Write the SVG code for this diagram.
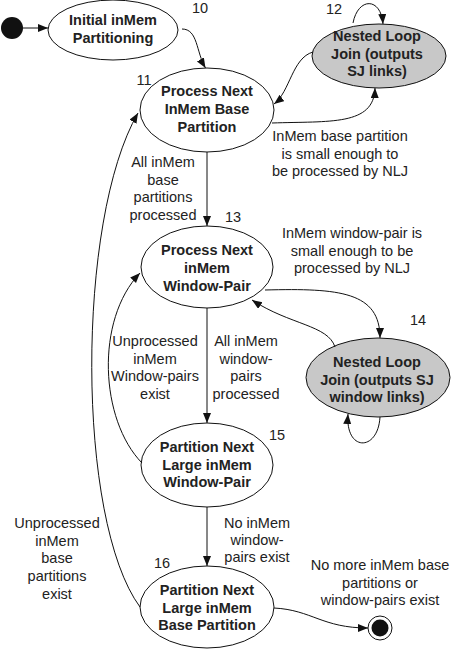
<svg xmlns="http://www.w3.org/2000/svg" width="451" height="651" viewBox="0 0 451 651">
<defs>
<marker id="ah" markerUnits="userSpaceOnUse" markerWidth="11" markerHeight="9" refX="10" refY="4" orient="auto">
<path d="M0,0 L10,4 L0,8 z" fill="#111"/>
</marker>
<style>
.n{fill:#fff;stroke:#111;stroke-width:1}
.g{fill:#c8c8c8;stroke:#111;stroke-width:1}
.t{font-family:"Liberation Sans",Arial,sans-serif;font-size:14.5px;font-weight:bold;fill:#222;text-anchor:middle}
.l{font-family:"Liberation Sans",Arial,sans-serif;font-size:14.5px;fill:#222;text-anchor:middle}
.c{fill:none;stroke:#111;stroke-width:1;marker-end:url(#ah)}
</style>
</defs>
<rect width="451" height="651" fill="#fff"/>
<g id="start"><circle cx="12" cy="28" r="11" fill="#111"/></g>
<g id="n10"><ellipse class="n" cx="113" cy="30" rx="65" ry="30"/><text class="t" x="113" y="25">Initial inMem</text><text class="t" x="113" y="42.5">Partitioning</text><text class="l" x="200" y="13">10</text></g>
<g id="n11"><ellipse class="n" cx="207" cy="110" rx="67" ry="42"/><text class="t" x="207" y="96">Process Next</text><text class="t" x="207" y="114">InMem Base</text><text class="t" x="207" y="132">Partition</text><text class="l" x="144" y="85">11</text></g>
<g id="n12"><ellipse class="g" cx="379" cy="56" rx="67" ry="32"/><text class="t" x="377" y="41">Nested Loop</text><text class="t" x="377" y="58.5">Join (outputs</text><text class="t" x="377" y="76">SJ links)</text><text class="l" x="334" y="14">12</text></g>
<g id="n13"><ellipse class="n" cx="207" cy="267" rx="66" ry="41"/><text class="t" x="207" y="255">Process Next</text><text class="t" x="207" y="273">inMem</text><text class="t" x="207" y="291">Window-Pair</text><text class="l" x="233" y="222">13</text></g>
<g id="n14"><ellipse class="g" cx="378" cy="377.5" rx="72" ry="39.5"/><text class="t" x="377" y="367">Nested Loop</text><text class="t" x="377" y="385">Join (outputs SJ</text><text class="t" x="377" y="402">window links)</text><text class="l" x="418" y="325">14</text></g>
<g id="n15"><ellipse class="n" cx="207" cy="465" rx="66" ry="42"/><text class="t" x="207" y="452">Partition Next</text><text class="t" x="207" y="470">Large inMem</text><text class="t" x="207" y="487">Window-Pair</text><text class="l" x="277" y="440">15</text></g>
<g id="n16"><ellipse class="n" cx="207" cy="607" rx="67" ry="41"/><text class="t" x="207" y="595">Partition Next</text><text class="t" x="207" y="613">Large inMem</text><text class="t" x="207" y="630">Base Partition</text><text class="l" x="162" y="568">16</text></g>
<g id="end"><circle cx="380" cy="628" r="12" fill="#fff" stroke="#111" stroke-width="1"/><circle cx="380" cy="628" r="8.5" fill="#111"/></g>
<g id="connectors">
<path class="c" d="M23,28 L48,28"/>
<path class="c" d="M182,29 C198,29 196,52 205.5,68"/>
<path class="c" d="M353,23 C358,-3 381,-3 383,24"/>
<path class="c" d="M313,52 C292,58 290,92 274,104"/>
<path class="c" d="M272,123 C330,121 374,126 375,88"/>
<path class="c" d="M207,152 L207,226"/>
<path class="c" d="M265,290 C340,288 380,292 380,338"/>
<path class="c" d="M335,347 C328,325 290,325 252,300"/>
<path class="c" d="M380,417 C378,452 345,452 348,414"/>
<path class="c" d="M207,308 L207,423"/>
<path class="c" d="M142,463 C100,420 95,320 140,273"/>
<path class="c" d="M207,507 L207,566"/>
<path class="c" d="M140,607 C76,520 76,220 138,113"/>
<path class="c" d="M274,608 C312,610 322,628 368,628"/>
</g>
<g id="labels">
<text class="l" x="163" y="167">All inMem</text><text class="l" x="163" y="185">base</text><text class="l" x="163" y="202">partitions</text><text class="l" x="163" y="220">processed</text>
<text class="l" x="340" y="141">InMem base partition</text><text class="l" x="340" y="159">is small enough to</text><text class="l" x="340" y="176">be processed by NLJ</text>
<text class="l" x="352" y="238">InMem window-pair is</text><text class="l" x="352" y="255.5">small enough to be</text><text class="l" x="352" y="273">processed by NLJ</text>
<text class="l" x="155" y="346">Unprocessed</text><text class="l" x="155" y="363.5">inMem</text><text class="l" x="155" y="381">Window-pairs</text><text class="l" x="155" y="398.5">exist</text>
<text class="l" x="246" y="346">All inMem</text><text class="l" x="246" y="363.5">window-</text><text class="l" x="246" y="381">pairs</text><text class="l" x="246" y="398.5">processed</text>
<text class="l" x="257" y="528">No inMem</text><text class="l" x="257" y="545">window-</text><text class="l" x="257" y="562">pairs exist</text>
<text class="l" x="57" y="528">Unprocessed</text><text class="l" x="57" y="546">inMem</text><text class="l" x="57" y="563">base</text><text class="l" x="57" y="581">partitions</text><text class="l" x="57" y="599">exist</text>
<text class="l" x="380" y="570">No more inMem base</text><text class="l" x="380" y="588">partitions or</text><text class="l" x="380" y="605">window-pairs exist</text>
</g>
</svg>
